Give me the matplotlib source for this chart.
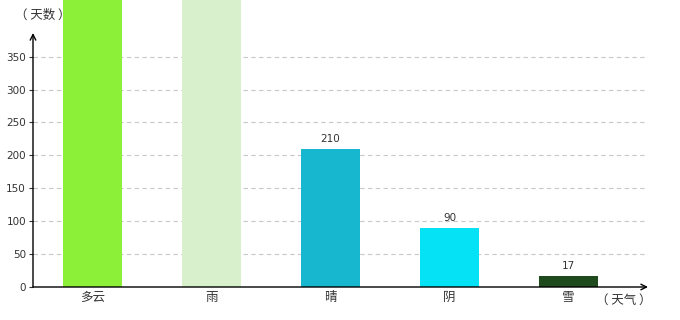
import matplotlib
matplotlib.use("Agg")
import matplotlib.pyplot as plt

plt.rcParams['font.family'] = ['Noto Sans CJK SC', 'DejaVu Sans']

# --- data ---
categories = ["多云", "雨", "晴", "阴", "雪"]
days = [460, 450, 210, 90, 17]          # first two run off the top of the chart
show_label = [False, False, True, True, True]
colors = ["#8df038", "#d8f1cc", "#17b7cf", "#06e2f5", "#1e4a1e"]
yticks = [0, 50, 100, 150, 200, 250, 300, 350]

fig = plt.figure(figsize=(6.8, 3.2), dpi=100)
# axes box in pixels: x 33..648, y 33..287 (from top)
ax = fig.add_axes([33/680, (320-287)/320, (648-33)/680, (287-33)/320])

x = list(range(len(categories)))
bars = ax.bar(x, days, width=0.496, color=colors, zorder=3, clip_on=False)

for b, v, s in zip(bars, days, show_label):
    if s:
        ax.text(b.get_x() + b.get_width()/2, v + 8, str(v), ha="center", va="bottom",
                fontsize=7.5, color="#333333", family="DejaVu Sans")

ax.set_xlim(-0.5, 4.668)
ax.set_ylim(0, 386)

# dashed grid
for t in yticks[1:]:
    ax.axhline(t, color="#c8c8c8", linestyle=(0, (4, 3)), linewidth=0.8, zorder=1)

for sp in ax.spines.values():
    sp.set_visible(False)

# axes with arrow heads
ax.annotate("", xy=(0, 1.0), xytext=(0, 0), xycoords="axes fraction",
            arrowprops=dict(arrowstyle="->", color="black", lw=1.0, shrinkA=0, shrinkB=0))
ax.annotate("", xy=(1.0, 0), xytext=(0, 0), xycoords="axes fraction",
            arrowprops=dict(arrowstyle="->", color="black", lw=1.0, shrinkA=0, shrinkB=0))

ax.set_yticks(yticks)
ax.set_yticklabels([str(t) for t in yticks], fontsize=7.5, color="#333333", family="DejaVu Sans")
ax.tick_params(axis="y", length=3, width=0.8, pad=2, color="#333333")
ax.set_xticks(x)
ax.set_xticklabels(categories, fontsize=9, color="#333333")
ax.tick_params(axis="x", length=0, pad=3)

fig.text(15/680, 1 - 15/320, "（ 天数 ）", ha="left", va="center", fontsize=9, color="#333333")
fig.text(596/680, 1 - 300/320, "（ 天气 ）", ha="left", va="center", fontsize=9, color="#333333")

fig.savefig("out.png", dpi=100)
